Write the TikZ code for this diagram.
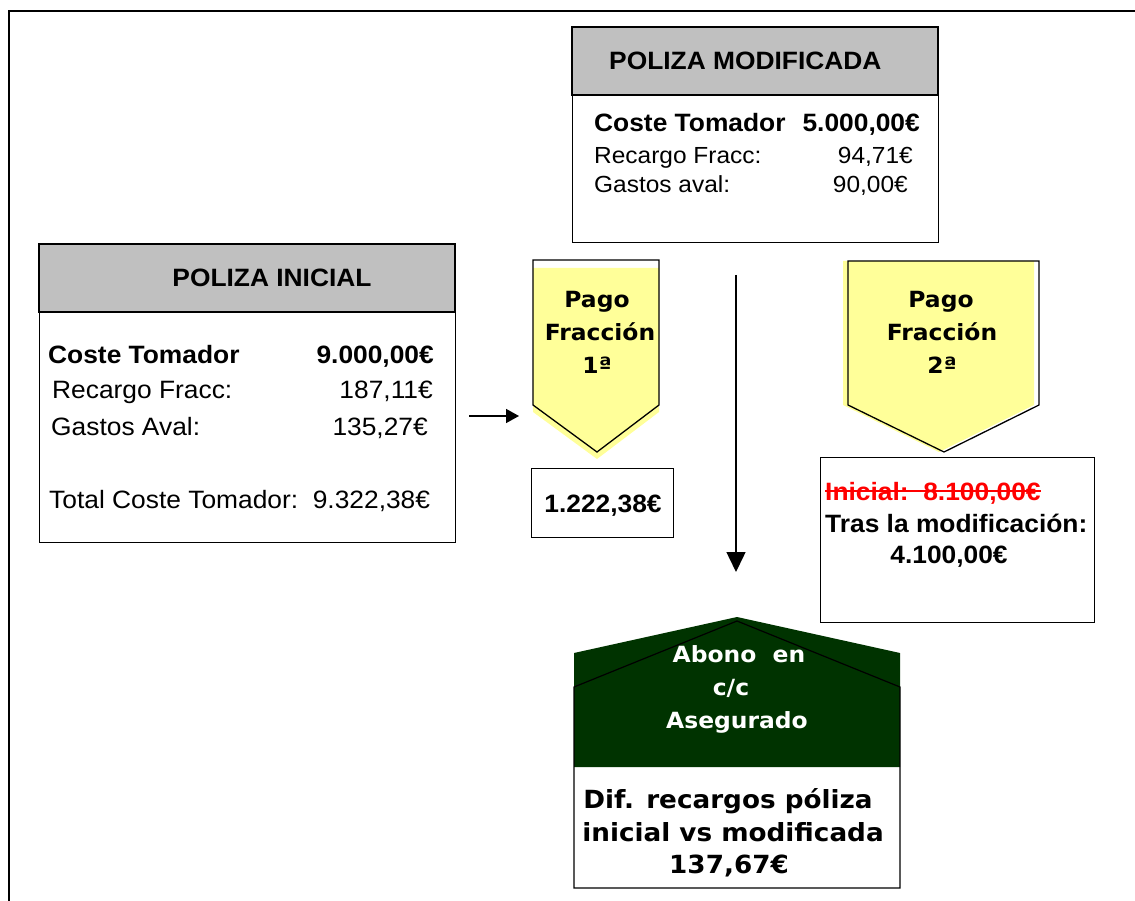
\documentclass[tikz,border=0pt]{standalone}
\usepackage{fontspec}
\setmainfont{Liberation Sans}[FakeStretch=1.05]
\newfontfamily\verd{DejaVu Sans}[FakeStretch=1.05]
\usetikzlibrary{arrows.meta}
\definecolor{hdrgray}{HTML}{C0C0C0}
\definecolor{pyel}{HTML}{FFFF99}
\definecolor{dgreen}{HTML}{003300}
\definecolor{sred}{HTML}{FF0000}
\begin{document}
\begin{tikzpicture}[x=1pt,y=-1pt,
  boxst/.style={draw=black, line width=1.3pt, fill=white, inner sep=0pt, anchor=north west},
  hdrst/.style={fill=hdrgray, draw=black, line width=1.3pt},
  tl/.style={inner sep=0pt, anchor=base west},
  tr/.style={inner sep=0pt, anchor=base east},
  tc/.style={inner sep=0pt, anchor=base},
  ftitle/.style={font=\fontsize{25.1}{28}\selectfont\bfseries},
  fbold/.style={font=\fontsize{25.1}{28}\selectfont\bfseries},
  freg/.style={font=\fontsize{25.1}{28}\selectfont},
  fregs/.style={font=\fontsize{23.3}{28}\selectfont},
  fverd/.style={font=\verd\fontsize{22.3}{28}\selectfont\bfseries},
  fverdb/.style={font=\verd\fontsize{25}{28}\selectfont\bfseries},
  pentst/.style={draw=black, line width=1.3pt},
  arrh/.style={line width=1.5pt, -{Triangle[length=13pt,width=14pt]}},
  arrv/.style={line width=1.5pt, -{Triangle[length=20pt,width=19pt]}}]
\useasboundingbox (0,0) rectangle (1135,901);

% outer frame
\draw[line width=2pt] (9,905) -- (9,11) -- (1140,11);

% ---- POLIZA MODIFICADA
\node[boxst, minimum width=366pt, minimum height=215pt] (mod) at (572,27) {};
\draw[hdrst] (572,27) rectangle (938,95);
\node[tl, ftitle] (modt) at (609,70) {POLIZA MODIFICADA};
\node[tl, fbold] (modc) at (594,132) {Coste Tomador};
\node[tr, fbold] (modcv) at (920,132) {5.000,00€};
\node[tl, fregs] (modr) at (594,164) {Recargo Fracc:};
\node[tr, fregs] (modrv) at (913,164) {94,71€};
\node[tl, fregs] (modg) at (594,193) {Gastos aval:};
\node[tr, fregs] (modgv) at (908,193) {90,00€};

% ---- POLIZA INICIAL
\node[boxst, minimum width=416pt, minimum height=298pt] (ini) at (39,244) {};
\draw[hdrst] (39,244) rectangle (455,312);
\node[tc, ftitle] (init) at (272,287) {POLIZA INICIAL};
\node[tl, fbold] (inic) at (48,363) {Coste Tomador};
\node[tr, fbold] (inicv) at (434,363) {9.000,00€};
\node[tl, freg] (inir) at (52,398) {Recargo Fracc:};
\node[tr, freg] (inirv) at (433,398) {187,11€};
\node[tl, freg] (inig) at (51,435) {Gastos Aval:};
\node[tr, freg] (inigv) at (428,435) {135,27€};
\node[tl, freg] (inito) at (49,508) {Total Coste Tomador:\ \ 9.322,38€};

% ---- arrow left -> pentagon 1
\coordinate (ha) at (469,416);
\coordinate (hb) at (519,416);
\draw[arrh] (ha) -- (hb);

% ---- Pentagon 1
\fill[pyel] (533,268) -- (659,268) -- (659,412) -- (597,459) -- (533,412) -- cycle;
\draw[pentst] (533,260) -- (659,260) -- (659,405) -- (597,452) -- (533,405) -- cycle;
\node[tc, fverd] (p1a) at (597,308) {Pago};
\node[tc, fverd] (p1b) at (600,341) {Fracción};
\node[tc, fverd] (p1c) at (597,373) {1ª};

% ---- box 1.222,38
\node[boxst, minimum width=142pt, minimum height=69pt] (b1) at (531,468) {};
\node[tc, fbold] (b1t) at (603,512) {1.222,38€};

% ---- Pentagon 2
\fill[pyel] (843,261) -- (1034,261) -- (1034,405) -- (939,452) -- (843,405) -- cycle;
\draw[pentst] (848,261) -- (1039,261) -- (1039,405) -- (944,452) -- (848,405) -- cycle;
\node[tc, fverd] (p2a) at (941,308) {Pago};
\node[tc, fverd] (p2b) at (942,341) {Fracción};
\node[tc, fverd] (p2c) at (942,373) {2ª};

% ---- box 2
\node[boxst, minimum width=274pt, minimum height=165pt] (b2) at (820,457) {};
\node[tl, fbold, text=sred] (b2a) at (825,500) {Inicial:\ \ 8.100,00€};
\draw[sred, line width=2.5pt] (b2a.west |- 0,491) -- (b2a.east |- 0,491);
\node[tl, fbold] (b2b) at (825,532) {Tras la modificación:};
\node[tc, fbold] (b2c) at (949,563) {4.100,00€};

% ---- vertical arrow
\coordinate (va) at (736,275);
\coordinate (vb) at (736,572);
\draw[arrv] (va) -- (vb);

% ---- Abono shape
\fill[dgreen] (574,653) -- (737,617) -- (900,653) -- (900,767) -- (574,767) -- cycle;
\draw[line width=1.2pt] (574,687) -- (737,621) -- (900,687) -- (900,888) -- (574,888) -- cycle;
\node[tc, fverd, text=white] (ab1) at (739,662) {Abono\ \ en};
\node[tc, fverd, text=white] (ab2) at (731,695) {c/c};
\node[tc, fverd, text=white] (ab3) at (737,728) {Asegurado};
\node[tc, fverdb] (ab4) at (728,808) {Dif. recargos póliza};
\node[tc, fverdb] (ab5) at (733,841) {inicial vs modificada};
\node[tc, fverdb] (ab6) at (729,873) {137,67€};
\end{tikzpicture}
\end{document}
